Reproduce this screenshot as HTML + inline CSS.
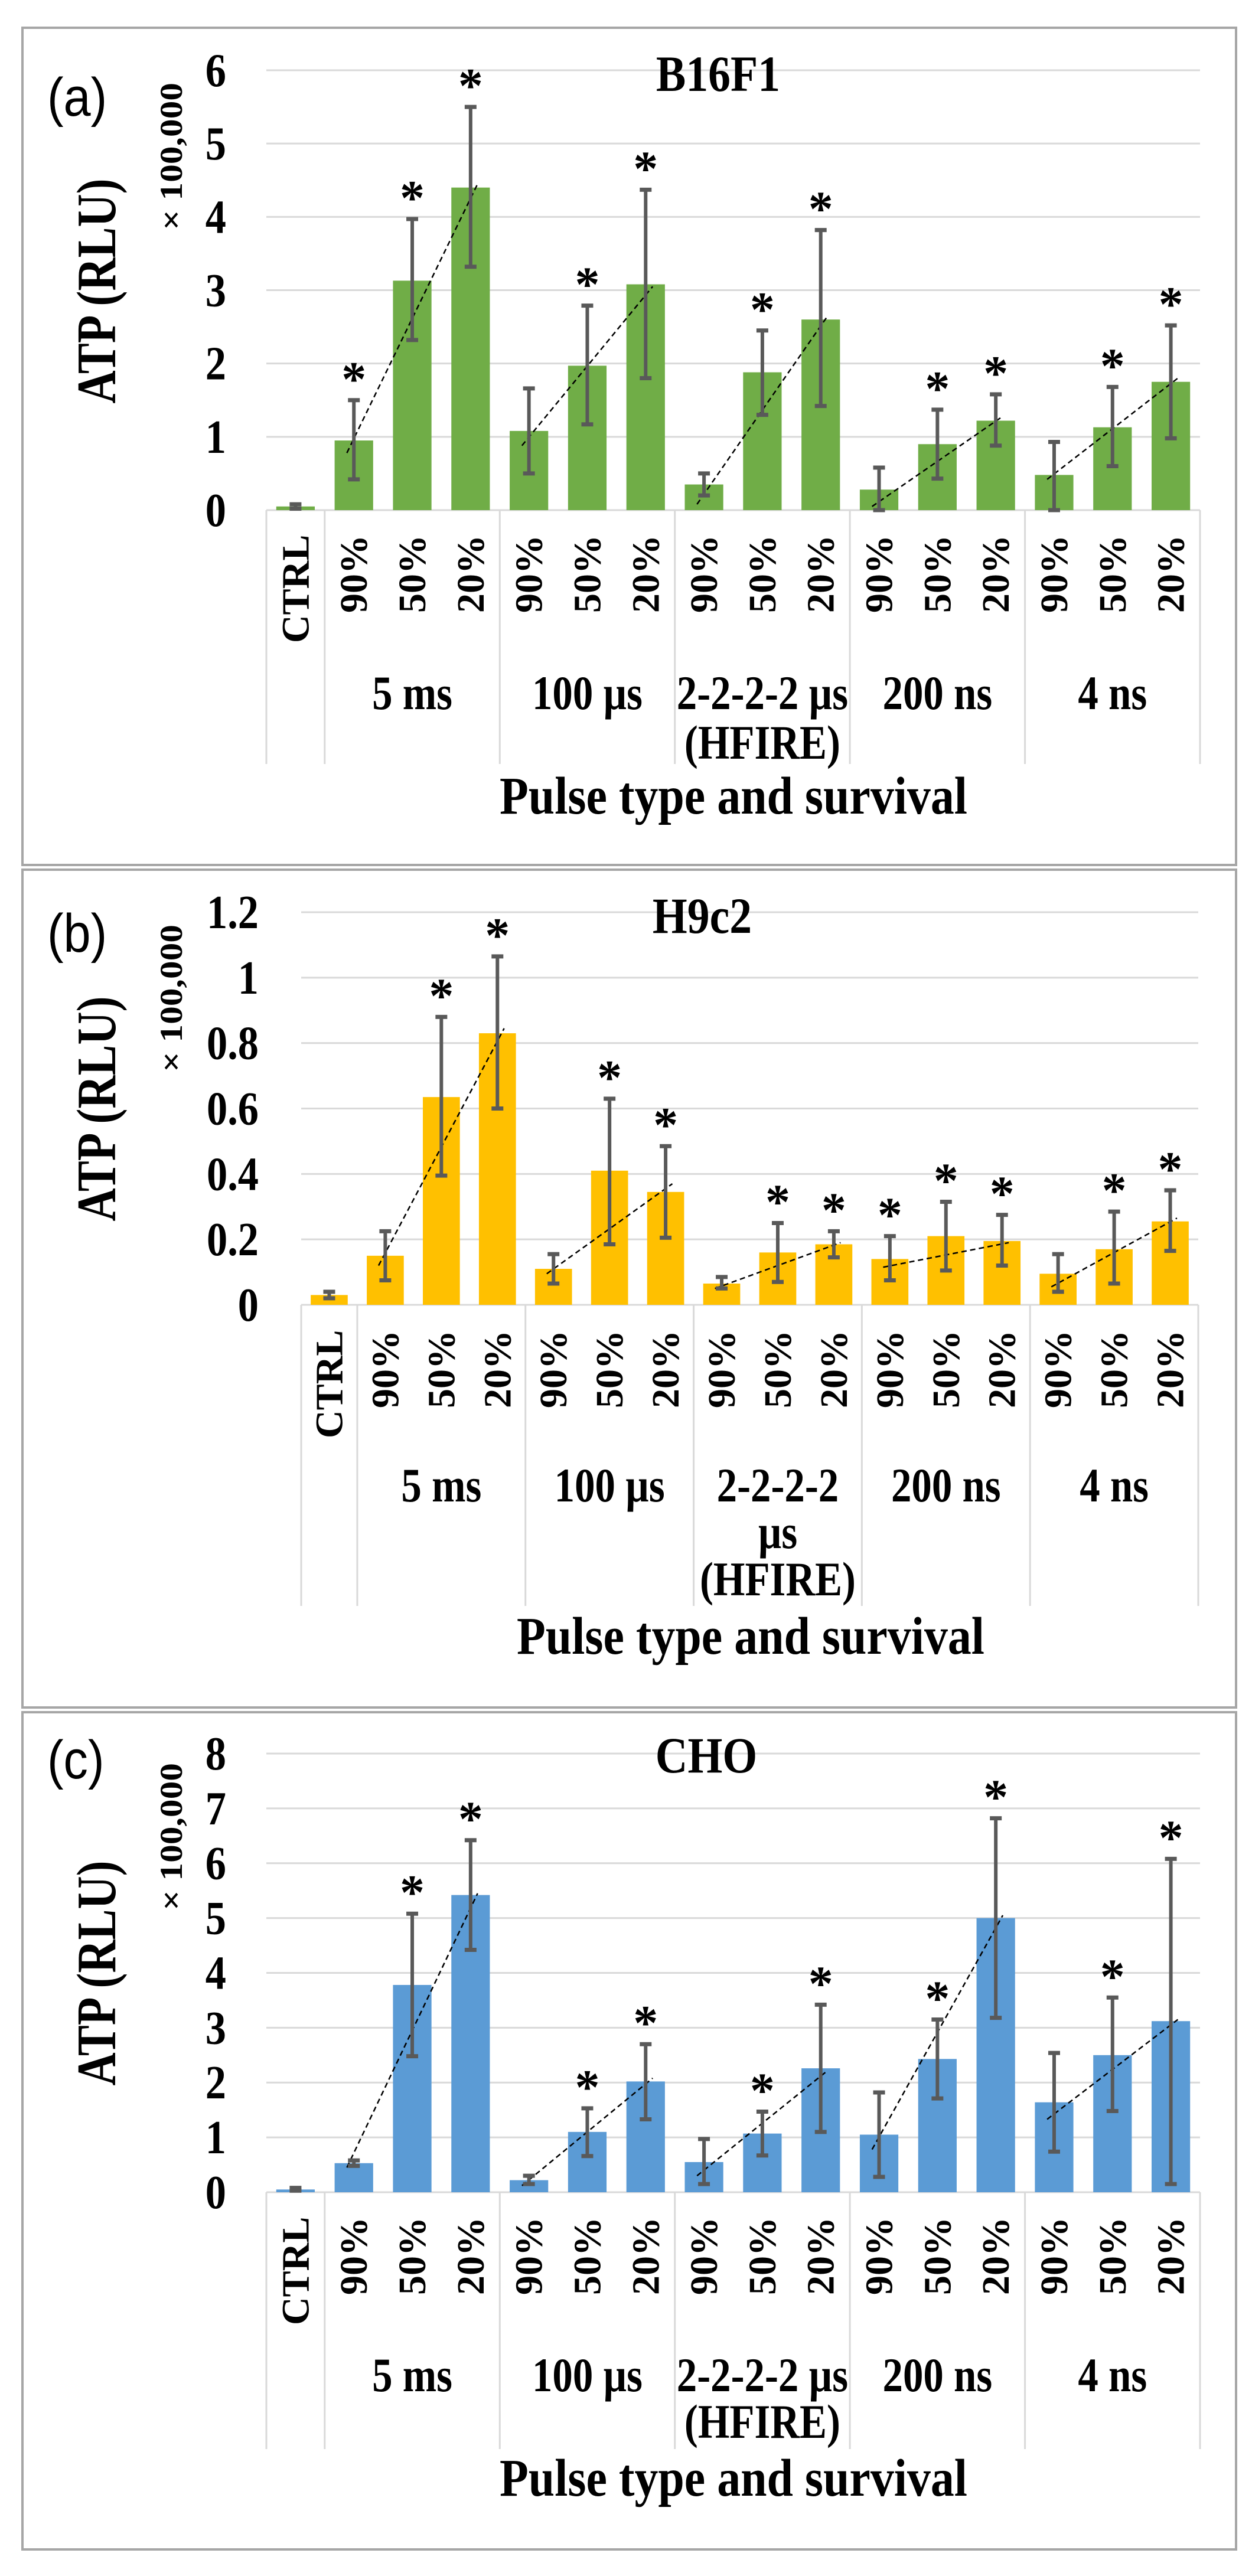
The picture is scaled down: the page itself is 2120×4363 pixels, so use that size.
<!DOCTYPE html>
<html><head><meta charset="utf-8">
<style>
html,body{margin:0;padding:0;background:#fff;}
svg{display:block;}
text{font-family:"Liberation Serif",serif;font-weight:bold;fill:#000;}
.sans{font-family:"Liberation Sans",sans-serif;font-weight:normal;}
</style></head>
<body>
<svg id="s" xmlns="http://www.w3.org/2000/svg" width="2120" height="4363" viewBox="0 0 2120 4363">
<rect x="0" y="0" width="2120" height="4363" fill="#fff"/>
<rect x="38" y="47" width="2055" height="1418" fill="none" stroke="#a6a6a6" stroke-width="4"/>
<rect x="38" y="1473" width="2055" height="1419" fill="none" stroke="#a6a6a6" stroke-width="4"/>
<rect x="38" y="2900" width="2055" height="1418" fill="none" stroke="#a6a6a6" stroke-width="4"/>
</svg>
<script>
var NS="http://www.w3.org/2000/svg",S=document.getElementById("s");
function el(t,a,txt,p){var e=document.createElementNS(NS,t);for(var k in a)e.setAttribute(k,a[k]);if(txt!=null)e.textContent=txt;(p||S).appendChild(e);return e;}
var pct=["90%","50%","20%"];
var groups=[["5 ms"],["100 µs"],["2-2-2-2 µs","(HFIRE)"],["200 ns"],["4 ns"]];
var groupsB=[["5 ms"],["100 µs"],["2-2-2-2","µs","(HFIRE)"],["200 ns"],["4 ns"]];
function chart(c){
  var n=16,sw=(c.x1-c.x0)/n,ppu=(c.y0-c.yTop)/c.max;
  function Y(v){return c.y0-v*ppu;}
  for(var i=0;i<c.ticks.length;i++){var v=c.ticks[i][0];
    el("line",{x1:c.x0,x2:c.x1,y1:Y(v),y2:Y(v),stroke:"#d9d9d9","stroke-width":3});
    el("text",{x:c.tickRight,y:Y(v)+27,"font-size":80,"text-anchor":"end",transform:"translate("+c.tickRight+","+(Y(v)+27)+") scale(0.88,1) translate("+(-c.tickRight)+","+(-(Y(v)+27))+")"},c.ticks[i][1]);}
  var seps=[0,1,4,7,10,13,16];
  seps.forEach(function(k){var x=c.x0+k*sw;el("line",{x1:x,x2:x,y1:c.y0,y2:c.sep,stroke:"#d9d9d9","stroke-width":3});});
  for(var i=0;i<n;i++){var d=c.data[i],cx=c.x0+(i+0.5)*sw,bw=sw*0.66;
    el("rect",{x:cx-bw/2,y:Y(d[0]),width:bw,height:d[0]*ppu,fill:c.color});}
  for(var g=0;g<5;g++){var t=c.trend[g],xa=c.x0+(1+g*3+0.5)*sw-0.12*sw,xb=c.x0+(1+g*3+2.5)*sw+0.12*sw;
    el("line",{x1:xa,y1:Y(t[0]),x2:xb,y2:Y(t[1]),stroke:"#000","stroke-width":2.5,"stroke-dasharray":"9,6"});}
  for(var i=0;i<n;i++){var d=c.data[i],cx=c.x0+(i+0.5)*sw;
    el("line",{x1:cx,x2:cx,y1:Y(d[1]),y2:Y(d[2]),stroke:"#595959","stroke-width":6});
    el("line",{x1:cx-10,x2:cx+10,y1:Y(d[1]),y2:Y(d[1]),stroke:"#595959","stroke-width":7});
    el("line",{x1:cx-10,x2:cx+10,y1:Y(d[2]),y2:Y(d[2]),stroke:"#595959","stroke-width":7});
    if(d[3])el("text",{x:cx,y:Y(d[2])-8,"font-size":84,"text-anchor":"middle"},"*");
    var lab=i==0?"CTRL":pct[(i-1)%3],bot=i==0?c.ctrl:c.rot,bx=cx+22;
    el("text",{x:bx,y:bot,"font-size":66,transform:"rotate(-90 "+bx+" "+bot+")"},lab);}
  var G=c.gl;
  for(var g=0;g<5;g++){var gx=c.x0+(1+g*3+1.5)*sw;
    G[g].forEach(function(s,j){var yy=c.gb[j];
      el("text",{x:gx,y:yy,"font-size":82,"text-anchor":"middle",transform:"translate("+gx+","+yy+") scale(0.84,1) translate("+(-gx)+","+(-yy)+")"},s);});}
  el("text",{x:c.axX,y:c.axY,"font-size":90,"text-anchor":"middle",textLength:792,lengthAdjust:"spacingAndGlyphs"},"Pulse type and survival");
  el("text",{x:c.tX,y:c.tY,"font-size":86,"text-anchor":"middle",transform:"translate("+c.tX+","+c.tY+") scale(0.88,1) translate("+(-c.tX)+","+(-c.tY)+")"},c.title);
  el("text",{x:163+32,y:c.ytY,"font-size":94,"text-anchor":"middle",textLength:381,lengthAdjust:"spacingAndGlyphs",transform:"rotate(-90 195 "+c.ytY+")"},"ATP (RLU)");
  el("text",{x:292+16,y:c.xY,"font-size":54,"text-anchor":"middle",textLength:250,lengthAdjust:"spacingAndGlyphs",transform:"rotate(-90 308 "+c.xY+")"},"× 100,000");
  el("text",{x:80,y:c.lY,"font-size":92,"class":"sans",transform:"translate(80,"+c.lY+") scale(0.9,1) translate(-80,"+(-c.lY)+")"},c.lab);
}
chart({x0:451,x1:2032,yTop:119,y0:864,max:6,color:"#70ad47",tickRight:383,
 ticks:[[0,"0"],[1,"1"],[2,"2"],[3,"3"],[4,"4"],[5,"5"],[6,"6"]],
 rot:1038,ctrl:1089,sep:1294,gb:[1201,1285],gl:groups,axX:1242,axY:1378,tX:1216,tY:154,ytY:493,xY:265,lY:196,lab:"(a)",title:"B16F1",
 data:[[0.05,0.02,0.08,0],[0.95,0.42,1.5,1],[3.13,2.32,3.97,1],[4.4,3.32,5.5,1],[1.08,0.5,1.66,0],[1.97,1.17,2.79,1],[3.08,1.8,4.37,1],
 [0.35,0.2,0.5,0],[1.88,1.3,2.45,1],[2.6,1.42,3.82,1],[0.28,0,0.58,0],[0.9,0.43,1.37,1],[1.22,0.88,1.58,1],[0.48,0,0.93,0],[1.13,0.6,1.68,1],[1.75,0.98,2.52,1]],
 trend:[[0.78,4.45],[0.88,3.05],[0.08,2.65],[0.05,1.28],[0.42,1.8]]});
chart({x0:510,x1:2029,yTop:1545,y0:2210,max:1.2,color:"#ffc000",tickRight:438,
 ticks:[[0,"0"],[0.2,"0.2"],[0.4,"0.4"],[0.6,"0.6"],[0.8,"0.8"],[1,"1"],[1.2,"1.2"]],
 rot:2385,ctrl:2436,sep:2720,gb:[2543,2622,2702],gl:groupsB,axX:1271,axY:2801,tX:1189,tY:1580,ytY:1878,xY:1691,lY:1612,lab:"(b)",title:"H9c2",
 data:[[0.03,0.02,0.04,0],[0.15,0.075,0.225,0],[0.635,0.395,0.88,1],[0.83,0.6,1.065,1],[0.11,0.065,0.155,0],[0.41,0.185,0.63,1],[0.345,0.205,0.485,1],
 [0.065,0.05,0.085,0],[0.16,0.07,0.25,1],[0.185,0.145,0.225,1],[0.14,0.075,0.21,1],[0.21,0.105,0.315,1],[0.195,0.12,0.275,1],[0.095,0.04,0.155,0],[0.17,0.065,0.285,1],[0.255,0.165,0.35,1]],
 trend:[[0.12,0.845],[0.095,0.37],[0.05,0.19],[0.115,0.19],[0.055,0.265]]});
chart({x0:451,x1:2032,yTop:2970,y0:3713,max:8,color:"#5b9bd5",tickRight:383,
 ticks:[[0,"0"],[1,"1"],[2,"2"],[3,"3"],[4,"4"],[5,"5"],[6,"6"],[7,"7"],[8,"8"]],
 rot:3887,ctrl:3938,sep:4148,gb:[4050,4129],gl:groups,axX:1242,axY:4227,tX:1196,tY:3002,ytY:3342,xY:3111,lY:3012,lab:"(c)",title:"CHO",
 data:[[0.05,0.03,0.08,0],[0.53,0.48,0.58,0],[3.78,2.48,5.08,1],[5.42,4.42,6.42,1],[0.22,0.15,0.3,0],[1.1,0.66,1.53,1],[2.02,1.33,2.7,1],
 [0.55,0.15,0.97,0],[1.07,0.67,1.47,1],[2.26,1.1,3.42,1],[1.05,0.28,1.82,0],[2.43,1.71,3.15,1],[5.0,3.18,6.82,1],[1.64,0.74,2.54,0],[2.5,1.48,3.55,1],[3.12,0.15,6.08,1]],
 trend:[[0.45,5.45],[0.12,2.08],[0.3,2.22],[0.78,5.05],[1.33,3.15]]});
</script>
</body></html>
